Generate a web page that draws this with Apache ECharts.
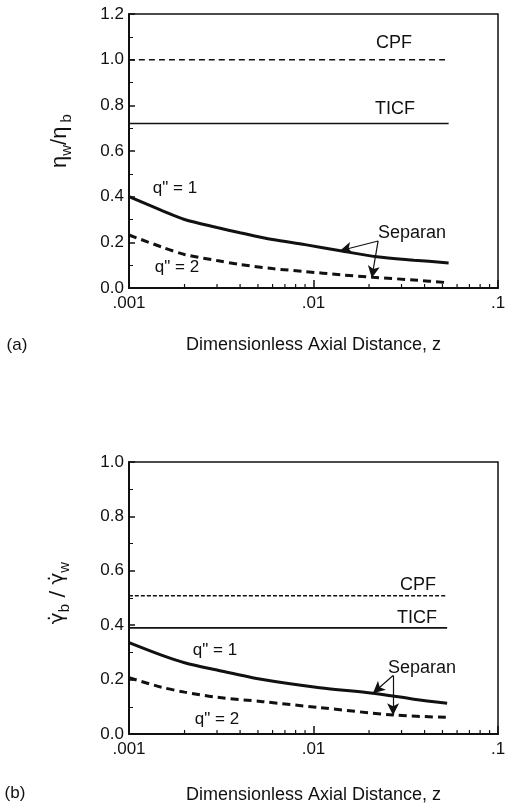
<!DOCTYPE html>
<html><head><meta charset="utf-8">
<script src="https://cdn.jsdelivr.net/npm/echarts@6/dist/echarts.min.js"></script>
<style>html,body{margin:0;padding:0;background:#fff}#c{width:512px;height:805px}</style>
</head><body><div id="c"></div>
<script>
// ---- data ----
const xTickLabels = ['.001', '.01', '.1'];
const xMinorTicks = [0.002,0.003,0.004,0.005,0.006,0.007,0.008,0.009,0.02,0.03,0.04,0.05,0.06,0.07,0.08,0.09];

// panel (a): eta_w / eta_b
const aZ1 = [0.001, 0.0015, 0.002, 0.003, 0.004, 0.006, 0.009, 0.014, 0.022, 0.035, 0.054];
const aQ1 = [0.40, 0.34, 0.30, 0.265, 0.242, 0.212, 0.19, 0.163, 0.137, 0.122, 0.11];
const aZ2 = [0.001, 0.0015, 0.002, 0.003, 0.004, 0.006, 0.009, 0.014, 0.021, 0.035, 0.054];
const aQ2 = [0.232, 0.18, 0.147, 0.12, 0.103, 0.085, 0.072, 0.058, 0.047, 0.035, 0.023];
const aCPF = 1.0, aTICF = 0.72;
const aZEnds = [0.001, 0.054];

// panel (b): gamma_b / gamma_w
const bZ1 = [0.001, 0.0015, 0.002, 0.003, 0.0053, 0.0108, 0.021, 0.035, 0.053];
const bQ1 = [0.336, 0.29, 0.262, 0.235, 0.20, 0.17, 0.15, 0.128, 0.113];
const bZ2 = [0.001, 0.0015, 0.002, 0.003, 0.0053, 0.0108, 0.027, 0.053];
const bQ2 = [0.207, 0.172, 0.154, 0.135, 0.119, 0.097, 0.07, 0.061];
const bCPF = 0.508, bTICF = 0.39;
const bZEnds = [0.001, 0.053];

// arrows from "Separan" label: [from, to]
const aArrows = [[[0.0224, 0.206], [0.0139, 0.163]], [[0.0224, 0.206], [0.0207, 0.044]]];
const bArrows = [[[0.027, 0.215], [0.021, 0.15]], [[0.027, 0.215], [0.027, 0.069]]];

// ---- chart ----
const FONT = 'Liberation Sans';
const INK = '#111';
const pair = (xs, ys) => xs.map((x, i) => [x, ys[i]]);
const flat = (xs, v) => xs.map(x => [x, v]);

function xAxis(gi) {
  return {
    type: 'log', logBase: 10, min: 0.001, max: 0.1, gridIndex: gi,
    name: 'Dimensionless Axial Distance, z', nameLocation: 'middle', nameGap: gi === 0 ? 48 : 52,
    nameTextStyle: {fontFamily: FONT, fontSize: 18, color: INK},
    axisLine: {show: true, lineStyle: {color: INK, width: 2}},
    axisTick: {show: true, inside: true, length: 8, lineStyle: {color: INK, width: 1.5}},
    axisLabel: {fontFamily: FONT, fontSize: 17, color: INK, margin: 7,
      formatter: (v, i) => xTickLabels[i]},
    splitLine: {show: false}
  };
}
function yAxis(gi, max) {
  return {
    type: 'value', min: 0, max: max, interval: 0.2, gridIndex: gi,
    axisLine: {show: true, lineStyle: {color: INK, width: 2}},
    axisTick: {show: true, inside: true, length: 6, lineStyle: {color: INK, width: 1.5}},
    minorTick: {show: true, splitNumber: 2, length: 4, lineStyle: {color: INK, width: 1}},
    axisLabel: {fontFamily: FONT, fontSize: 17, color: INK, margin: 5,
      formatter: v => v.toFixed(1)},
    splitLine: {show: false}
  };
}
function lineSeries(gi, data, width, type) {
  return {
    type: 'line', xAxisIndex: gi, yAxisIndex: gi, data: data, showSymbol: false, symbol: 'none',
    smooth: 0.3, lineStyle: {color: INK, width: width, type: type}, silent: true, z: 3
  };
}
function arrowSeries(gi, arrows) {
  return {
    type: 'line', xAxisIndex: gi, yAxisIndex: gi, data: [], silent: true,
    markLine: {
      silent: true, symbol: ['none', 'arrow'], symbolSize: [9, 12], animation: false,
      label: {show: false}, lineStyle: {color: INK, width: 1.2, type: 'solid'},
      data: arrows.map(a => [{coord: a[0]}, {coord: a[1]}])
    }
  };
}
function minorXTicks(gi) {
  return {
    type: 'custom', xAxisIndex: gi, yAxisIndex: gi, silent: true, z: 4,
    data: xMinorTicks.map(v => [v, 0]),
    renderItem: (params, api) => {
      const p = api.coord([api.value(0), api.value(1)]);
      return {type: 'line', shape: {x1: p[0], y1: p[1], x2: p[0], y2: p[1] - 4},
        style: {stroke: INK, lineWidth: 1.2}};
    }
  };
}
function txt(x, y, t, size) {
  return {type: 'text', x: x, y: y, style: {text: t, fontFamily: FONT, fontSize: size || 16,
    fill: INK, align: 'center', verticalAlign: 'middle'}};
}
const richT = {
  g: {fontFamily: FONT, fontSize: 22, color: INK},
  d: {fontFamily: 'DejaVu Sans', fontSize: 20, color: INK},
  s: {fontFamily: FONT, fontSize: 15, color: INK, padding: [14, 0, 0, 0]}
};
function ytitle(x, y, t) {
  return {type: 'text', x: x, y: y, rotation: Math.PI / 2,
    style: {text: t, rich: richT, fontFamily: FONT, fontSize: 22, fill: INK,
      align: 'center', verticalAlign: 'middle'}};
}

const chart = echarts.init(document.getElementById('c'), null, {renderer: 'canvas'});
chart.setOption({
  backgroundColor: '#fff',
  animation: false,
  grid: [
    {left: 129, right: 14, top: 14, height: 274, show: true, borderColor: INK, borderWidth: 1.5},
    {left: 129, right: 14, top: 462, height: 274, show: true, borderColor: INK, borderWidth: 1.5}
  ],
  xAxis: [xAxis(0), xAxis(1)],
  yAxis: [yAxis(0, 1.2), yAxis(1, 1.0)],
  series: [
    lineSeries(0, flat(aZEnds, aCPF), 1.5, [6, 4]),
    lineSeries(0, flat(aZEnds, aTICF), 1.5, 'solid'),
    lineSeries(0, pair(aZ1, aQ1), 3, 'solid'),
    lineSeries(0, pair(aZ2, aQ2), 3, [8, 5]),
    arrowSeries(0, aArrows),
    minorXTicks(0),
    lineSeries(1, flat(bZEnds, bCPF), 1.5, [4, 2]),
    lineSeries(1, flat(bZEnds, bTICF), 1.8, 'solid'),
    lineSeries(1, pair(bZ1, bQ1), 3, 'solid'),
    lineSeries(1, pair(bZ2, bQ2), 3, [8, 5]),
    arrowSeries(1, bArrows),
    minorXTicks(1)
  ],
  graphic: [
    ytitle(60, 141, '{g|η}{s|w}{g|/η}{s| b}'),
    ytitle(58, 593, '{d|γ̇}{s|b}{d| / γ̇}{s|w}'),
    txt(394, 43, 'CPF', 18),
    txt(395, 109, 'TICF', 18),
    txt(175, 188, 'q" = 1', 17),
    txt(177, 267, 'q" = 2', 17),
    txt(412, 233, 'Separan', 18),
    txt(17, 345, '(a)', 17),
    txt(418, 585, 'CPF', 18),
    txt(417, 618, 'TICF', 18),
    txt(215, 650, 'q" = 1', 17),
    txt(217, 719, 'q" = 2', 17),
    txt(422, 668, 'Separan', 18),
    txt(15, 793, '(b)', 17)
  ]
});
</script></body></html>
